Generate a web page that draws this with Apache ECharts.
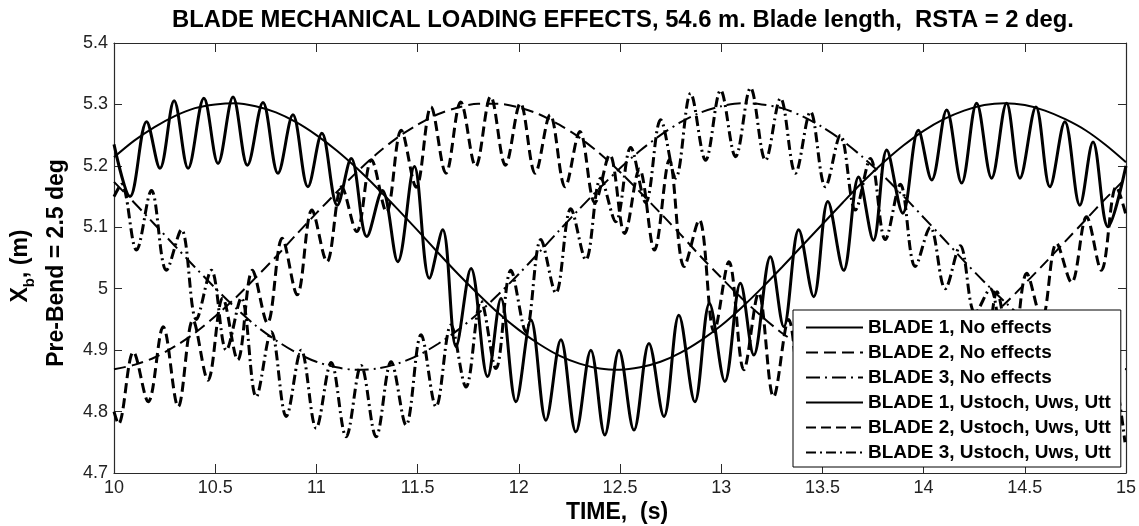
<!DOCTYPE html>
<html><head><meta charset="utf-8">
<script src="https://cdn.jsdelivr.net/npm/echarts@6/dist/echarts.min.js"></script>
<style>html,body{margin:0;padding:0;background:#fff}#c{width:1139px;height:526px}</style>
</head><body><div id="c"></div>
<script>
// ---- data ----
const smoothTimes = [10.0,10.1,10.2,10.3,10.4,10.5,10.6,10.7,10.8,10.9,11.0,11.1,11.2,11.3,11.4,11.5,11.6,11.7,11.8,11.9,12.0,12.1,12.2,12.3,12.4,12.5,12.6,12.7,12.8,12.9,13.0,13.1,13.2,13.3,13.4,13.5,13.6,13.7,13.8,13.9,14.0,14.1,14.2,14.3,14.4,14.5,14.6,14.7,14.8,14.9,15.0];
const blade1None = [5.214,5.241,5.263,5.281,5.294,5.300,5.302,5.297,5.287,5.271,5.250,5.225,5.196,5.164,5.130,5.095,5.059,5.024,4.991,4.960,4.933,4.910,4.891,4.878,4.870,4.868,4.872,4.881,4.896,4.916,4.940,4.969,5.001,5.035,5.070,5.105,5.140,5.174,5.205,5.233,5.257,5.276,5.290,5.299,5.302,5.299,5.290,5.276,5.258,5.234,5.206];
const blade2None = [4.869,4.876,4.888,4.906,4.928,4.955,4.985,5.018,5.052,5.088,5.123,5.157,5.190,5.220,5.246,5.267,5.284,5.295,5.301,5.301,5.295,5.284,5.267,5.246,5.220,5.190,5.157,5.123,5.088,5.052,5.018,4.985,4.955,4.928,4.906,4.888,4.876,4.869,4.868,4.873,4.884,4.900,4.921,4.946,4.975,5.008,5.042,5.077,5.112,5.147,5.180];
const blade3None = [5.174,5.140,5.105,5.070,5.035,5.001,4.969,4.940,4.916,4.896,4.881,4.872,4.868,4.870,4.878,4.891,4.910,4.933,4.960,4.991,5.024,5.059,5.095,5.130,5.164,5.196,5.225,5.250,5.271,5.287,5.297,5.302,5.300,5.294,5.281,5.263,5.241,5.214,5.184,5.151,5.116,5.081,5.045,5.011,4.979,4.949,4.923,4.902,4.885,4.874,4.869];

const blade1Effects = [[10.000,5.235],[10.079,5.150],[10.161,5.272],[10.227,5.196],[10.297,5.306],[10.366,5.196],[10.444,5.310],[10.514,5.204],[10.588,5.312],[10.659,5.201],[10.736,5.303],[10.810,5.188],[10.884,5.283],[10.958,5.166],[11.027,5.253],[11.103,5.136],[11.172,5.212],[11.249,5.085],[11.326,5.160],[11.402,5.044],[11.484,5.199],[11.558,5.017],[11.624,5.096],[11.690,4.906],[11.764,5.033],[11.846,4.857],[11.912,4.984],[11.986,4.816],[12.060,4.949],[12.134,4.786],[12.208,4.917],[12.282,4.767],[12.356,4.900],[12.425,4.762],[12.495,4.900],[12.569,4.770],[12.643,4.911],[12.717,4.792],[12.791,4.957],[12.870,4.816],[12.942,4.976],[13.018,4.849],[13.095,5.009],[13.161,4.892],[13.243,5.052],[13.309,4.938],[13.383,5.096],[13.457,4.987],[13.527,5.142],[13.605,5.030],[13.679,5.182],[13.752,5.079],[13.818,5.226],[13.897,5.123],[13.974,5.258],[14.040,5.177],[14.114,5.291],[14.188,5.172],[14.262,5.302],[14.336,5.180],[14.410,5.302],[14.476,5.180],[14.555,5.296],[14.624,5.166],[14.698,5.272],[14.772,5.136],[14.837,5.239],[14.911,5.101],[15.000,5.200]];

const blade2Effects = [[10.000,4.800],[10.022,4.780],[10.096,4.897],[10.169,4.816],[10.243,4.938],[10.317,4.808],[10.390,4.949],[10.464,4.851],[10.537,4.985],[10.611,4.884],[10.684,5.030],[10.758,4.944],[10.831,5.082],[10.905,4.990],[10.978,5.128],[11.052,5.044],[11.125,5.166],[11.199,5.093],[11.272,5.210],[11.346,5.125],[11.419,5.258],[11.493,5.165],[11.566,5.296],[11.640,5.188],[11.713,5.304],[11.787,5.199],[11.861,5.313],[11.934,5.201],[12.008,5.302],[12.081,5.188],[12.155,5.283],[12.229,5.166],[12.302,5.256],[12.376,5.140],[12.449,5.218],[12.523,5.090],[12.596,5.195],[12.670,5.063],[12.744,5.210],[12.817,5.036],[12.891,5.112],[12.965,4.930],[13.038,5.044],[13.112,4.868],[13.185,4.993],[13.259,4.824],[13.333,4.950],[13.406,4.790],[13.480,4.920],[13.553,4.770],[13.627,4.900],[13.701,4.760],[13.774,4.890],[13.848,4.760],[13.921,4.900],[13.995,4.770],[14.069,4.920],[14.142,4.790],[14.216,4.950],[14.289,4.830],[14.363,4.995],[14.436,4.880],[14.510,5.025],[14.584,4.950],[14.657,5.074],[14.731,5.010],[14.805,5.117],[14.878,5.030],[14.952,5.166],[15.000,5.120]];

const blade3Effects = [[10.000,5.150],[10.037,5.170],[10.111,5.063],[10.185,5.160],[10.259,5.030],[10.333,5.096],[10.407,4.950],[10.481,5.030],[10.555,4.900],[10.629,4.985],[10.703,4.824],[10.777,4.930],[10.851,4.792],[10.925,4.900],[10.999,4.773],[11.073,4.880],[11.147,4.759],[11.221,4.875],[11.295,4.759],[11.369,4.881],[11.443,4.778],[11.517,4.925],[11.591,4.808],[11.665,4.941],[11.739,4.840],[11.813,4.980],[11.887,4.870],[11.961,5.030],[12.035,4.930],[12.109,5.080],[12.183,4.993],[12.257,5.130],[12.331,5.047],[12.405,5.180],[12.479,5.109],[12.553,5.230],[12.627,5.140],[12.701,5.275],[12.775,5.180],[12.849,5.318],[12.923,5.209],[12.997,5.323],[13.071,5.215],[13.145,5.327],[13.219,5.209],[13.293,5.310],[13.367,5.188],[13.441,5.288],[13.515,5.166],[13.589,5.250],[13.663,5.128],[13.737,5.212],[13.811,5.080],[13.885,5.170],[13.959,5.036],[14.033,5.100],[14.107,5.000],[14.181,5.070],[14.255,4.960],[14.329,5.000],[14.403,4.890],[14.477,4.960],[14.551,4.840],[14.625,4.920],[14.699,4.800],[14.773,4.890],[14.847,4.770],[14.921,4.880],[14.995,4.750]];

const seriesNames = ['BLADE 1, No effects','BLADE 2, No effects','BLADE 3, No effects','BLADE 1, Ustoch, Uws, Utt','BLADE 2, Ustoch, Uws, Utt','BLADE 3, Ustoch, Uws, Utt'];
const titleText = 'BLADE MECHANICAL LOADING EFFECTS, 54.6 m. Blade length,  RSTA = 2 deg.';
const xName = 'TIME,  (s)';
const yName2 = 'Pre-Bend = 2.5 deg';

// ---- chart ----
const F = '"Liberation Sans", Arial, Helvetica, sans-serif';
const pairs = (ts, vs) => ts.map((t, i) => [t, vs[i]]);
const AX = '#2a2a2a';
const chart = echarts.init(document.getElementById('c'), null, {renderer: 'canvas'});

function lineSeries(name, data, type, width, smooth) {
  return {
    name, type: 'line', data, smooth, symbol: 'none', showSymbol: false,
    clip: true, animation: false,
    itemStyle: {color: '#000'},
    lineStyle: {color: '#000', width, type},
    emphasis: {disabled: true}
  };
}

const xBase = {
  type: 'value', min: 10, max: 15, interval: 0.5,
  splitLine: {show: false},
  axisLine: {show: true, onZero: false, lineStyle: {color: AX, width: 1.2}},
  axisTick: {show: true, inside: true, length: 9, lineStyle: {color: AX, width: 1}}
};
const yBase = {
  type: 'value', min: 4.7, max: 5.4, interval: 0.1,
  splitLine: {show: false},
  axisLine: {show: true, onZero: false, lineStyle: {color: AX, width: 1.2}},
  axisTick: {show: true, inside: true, length: 8, lineStyle: {color: AX, width: 1}}
};

chart.setOption({
  animation: false,
  backgroundColor: '#fff',
  grid: {left: 114, right: 11, top: 43, bottom: 53, show: false},
  xAxis: [
    Object.assign({}, xBase, {position: 'bottom',
      axisLabel: {fontFamily: F, fontSize: 18, color: '#222', margin: 6}}),
    Object.assign({}, xBase, {position: 'top', axisLabel: {show: false}})
  ],
  yAxis: [
    Object.assign({}, yBase, {position: 'left',
      axisLabel: {fontFamily: F, fontSize: 18, color: '#222', margin: 6,
        formatter: v => String(Math.round(v * 10) / 10)}}),
    Object.assign({}, yBase, {position: 'right', axisLabel: {show: false}})
  ],
  legend: {
    orient: 'vertical', left: 793, top: 310,
    padding: [8, 10, 5, 12], itemGap: 6.0, itemWidth: 57, itemHeight: 18,
    backgroundColor: '#fff', borderColor: '#000', borderWidth: 1, borderRadius: 0,
    textStyle: {fontFamily: F, fontWeight: 'bold', fontSize: 19, color: '#000'},
    lineStyle: {width: 2},
    itemStyle: {opacity: 0, color: 'rgba(0,0,0,0)', borderWidth: 0},
    selectedMode: false,
    data: seriesNames
  },
  series: [
    lineSeries(seriesNames[0], pairs(smoothTimes, blade1None), 'solid', 2, 0.3),
    lineSeries(seriesNames[1], pairs(smoothTimes, blade2None), [12, 6], 2, 0.3),
    lineSeries(seriesNames[2], pairs(smoothTimes, blade3None), [14, 5, 2, 5], 2, 0.3),
    lineSeries(seriesNames[3], blade1Effects, 'solid', 3, 0.35),
    lineSeries(seriesNames[4], blade2Effects, [10, 5], 3, 0.35),
    lineSeries(seriesNames[5], blade3Effects, [10, 4, 2, 4], 3, 0.35)
  ],
  graphic: [
    {type: 'text', x: 623, y: 20, silent: true,
     style: {text: titleText, fontFamily: F, fontWeight: 'bold', fontSize: 23.8, fill: '#000', textAlign: 'center', textVerticalAlign: 'middle'}},
    {type: 'text', x: 617, y: 513, silent: true,
     style: {text: xName, fontFamily: F, fontWeight: 'bold', fontSize: 23, fill: '#000', textAlign: 'center', textVerticalAlign: 'middle'}},
    {type: 'text', x: 21, y: 266, rotation: Math.PI / 2, silent: true,
     style: {text: '{a|X}{b|b}{a|, (m)}', textAlign: 'center', textVerticalAlign: 'middle', fill: '#000',
       rich: {a: {fontFamily: F, fontWeight: 'bold', fontSize: 23, lineHeight: 32, fill: '#000'},
              b: {fontFamily: F, fontWeight: 'bold', fontSize: 15, lineHeight: 32, verticalAlign: 'bottom', fill: '#000'}}}},
    {type: 'text', x: 57, y: 263, rotation: Math.PI / 2, silent: true,
     style: {text: yName2, fontFamily: F, fontWeight: 'bold', fontSize: 23, fill: '#000', textAlign: 'center', textVerticalAlign: 'middle'}}
  ]
});
</script></body></html>
